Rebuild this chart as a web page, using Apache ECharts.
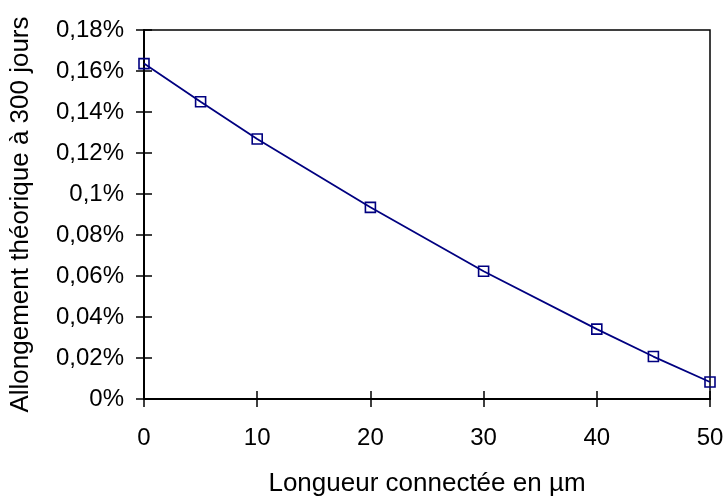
<!DOCTYPE html>
<html>
<head>
<meta charset="utf-8">
<script src="https://cdn.jsdelivr.net/npm/echarts@6/dist/echarts.min.js"></script>
<style>
html,body{margin:0;padding:0;background:#fff;}
#c{width:727px;height:502px;}
</style>
</head>
<body>
<div id="c"></div>
<script>
// Data
var lengths = [0, 5, 10, 20, 30, 40, 45, 50];
var elongation = [0.1636, 0.1450, 0.1268, 0.0935, 0.0623, 0.0341, 0.0207, 0.0083];
var xTitle = 'Longueur connectée en µm';
var yTitle = 'Allongement théorique à 300 jours';

var FONT = '"Liberation Sans", Arial, sans-serif';
var seriesData = lengths.map(function (x, i) { return [x, elongation[i]]; });
function fmtY(v) { return String(+v.toFixed(2)).replace('.', ',') + '%'; }

var chart = echarts.init(document.getElementById('c'), null, {renderer: 'canvas'});
chart.setOption({
  animation: false,
  backgroundColor: '#fff',
  grid: {left: 143, top: 30, right: 17, bottom: 101, show: true, borderColor: '#000', borderWidth: 1.5, backgroundColor: 'transparent'},
  xAxis: [{
    type: 'value', min: 0, max: 50, interval: 10, position: 'bottom',
    name: xTitle, nameLocation: 'middle', nameGap: 72,
    nameTextStyle: {fontFamily: FONT, fontSize: 26, color: '#000'},
    axisLine: {show: true, lineStyle: {color: '#000', width: 2}},
    axisTick: {show: true, inside: false, length: 8, lineStyle: {color: '#000', width: 1.5}},
    axisLabel: {fontFamily: FONT, fontSize: 24, color: '#000', margin: 27},
    splitLine: {show: false}
  }, {
    type: 'value', min: 0, max: 50, interval: 10, position: 'bottom',
    axisLine: {show: false},
    axisTick: {show: true, inside: true, length: 8, lineStyle: {color: '#000', width: 1.5}},
    axisLabel: {show: false},
    splitLine: {show: false}
  }],
  yAxis: [{
    type: 'value', min: 0, max: 0.18, interval: 0.02, position: 'left',
    name: yTitle, nameLocation: 'middle', nameGap: 110, nameRotate: 90,
    nameTextStyle: {fontFamily: FONT, fontSize: 26, color: '#000'},
    axisLine: {show: true, lineStyle: {color: '#000', width: 2}},
    axisTick: {show: true, inside: false, length: 8, lineStyle: {color: '#000', width: 1.5}},
    axisLabel: {fontFamily: FONT, fontSize: 24, color: '#000', margin: 20, formatter: fmtY},
    splitLine: {show: false}
  }, {
    type: 'value', min: 0, max: 0.18, interval: 0.02, position: 'left',
    axisLine: {show: false},
    axisTick: {show: true, inside: true, length: 8, lineStyle: {color: '#000', width: 1.5}},
    axisLabel: {show: false},
    splitLine: {show: false}
  }],
  series: [{
    type: 'line',
    xAxisIndex: 0, yAxisIndex: 0,
    data: seriesData,
    symbol: 'rect', symbolSize: 10,
    lineStyle: {color: '#000080', width: 1.8},
    itemStyle: {color: 'rgba(255,255,255,0)', borderColor: '#000080', borderWidth: 1.6},
    z: 5
  }]
});
</script>
</body>
</html>
